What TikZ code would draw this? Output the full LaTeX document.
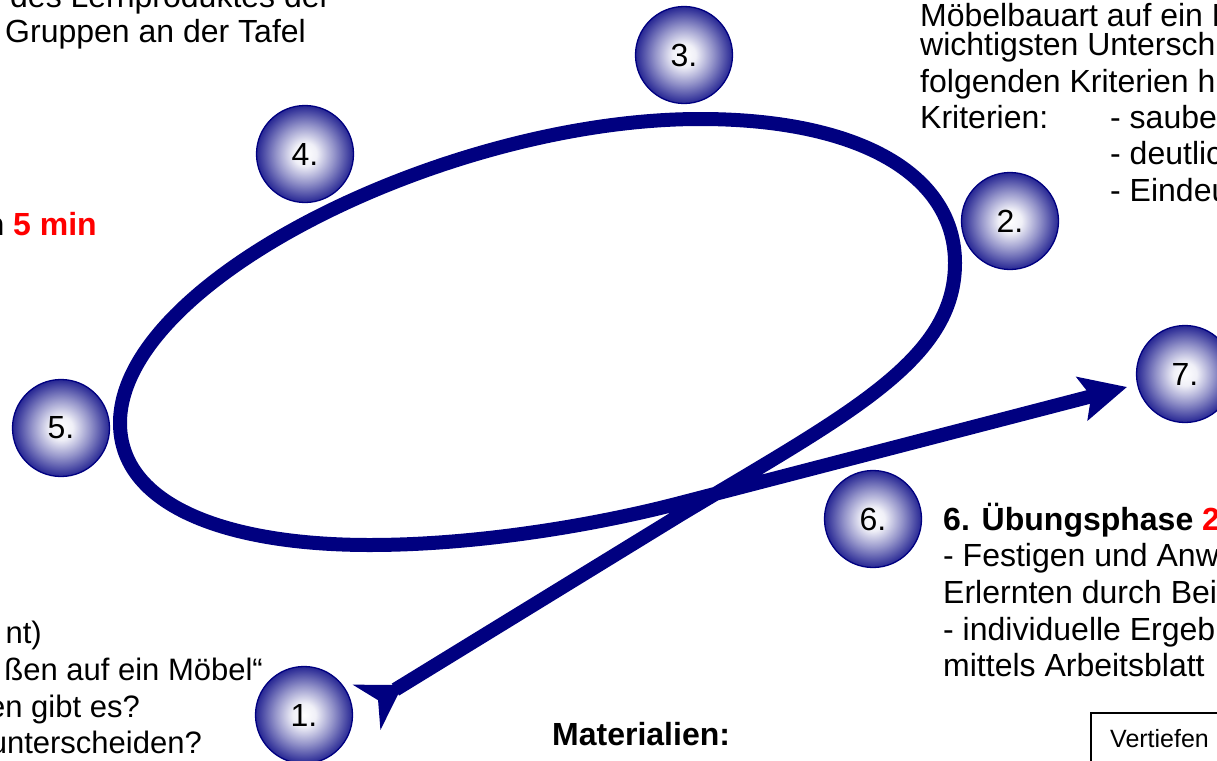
\documentclass[tikz,border=0pt]{standalone}
\usepackage{fontspec}
\setmainfont{Liberation Sans}
\usetikzlibrary{arrows.meta}

\definecolor{loopblue}{RGB}{0,0,128}
\pgfdeclareradialshading{ballshade}{\pgfpoint{0bp}{0bp}}{color(0bp)=(white); color(6bp)=(white!94!loopblue); color(15bp)=(loopblue!42!white); color(25bp)=(loopblue!85!white); color(50bp)=(loopblue!85!white)}

\begin{document}
\begin{tikzpicture}[x=1pt, y=-1pt,
every node/.style={inner sep=0pt},
stepball/.style={circle, draw=loopblue, line width=1.3pt, shade, shading=ballshade, minimum size=97pt, font=\fontsize{32}{36}\selectfont},
txt/.style={align=left, font=\fontsize{32}{36.7}\selectfont},
smalltxt/.style={font=\fontsize{31}{36.7}\selectfont},
loopline/.style={draw=loopblue, line width=14pt, line join=round}]
\useasboundingbox (0,0) rectangle (1217,760);
\clip (0,0) rectangle (1217,760);
\fill[white] (0,0) rectangle (1217,760);
\coordinate (tail) at (367,707);
\coordinate (head) at (1127,387);
\draw[loopline, {Stealth[reversed,length=42pt,width=52pt,inset=13pt]}-{Stealth[length=46pt,width=44pt,inset=9pt]}]
	(tail) -- (680,515) .. controls (850,413) and (955,360) .. (955,263)
	.. controls (955,175) and (860,119) .. (700,119)
	.. controls (450,119) and (120,280) .. (120,423)
	.. controls (120,505) and (225,545) .. (370,545)
	.. controls (480,545) and (600,524) .. (680,503) -- (head);
\node[stepball] (c1) at (304,715) {1.};
\node[stepball] (c2) at (1010,221) {2.};
\node[stepball] (c3) at (684,55) {3.};
\node[stepball] (c4) at (305,154) {4.};
\node[stepball] (c5) at (61,428) {5.};
\node[stepball] (c6) at (873,519) {6.};
\node[stepball] (c7) at (1185,374) {7.};
\node[txt, anchor=base west] (tl1) at (10,8) {des Lernproduktes der};
\node[txt, anchor=base west] (tl2) at (5,43) {Gruppen an der Tafel};
\node[txt, anchor=base east] (zeit) at (97,235) {\textbf{n \textcolor{red}{5 min}}};
\node[txt, anchor=base west] (tr0) at (920,27) {Möbelbauart auf ein P};
\node[txt, anchor=base west] (tr1) at (920,128.9) {wichtigsten Untersch\\folgenden Kriterien h\\Kriterien:};
\node[txt, anchor=base west] (krit) at (1110,201.4) {- saube\\- deutlic\\- Eindeu};
\node[txt, anchor=base west] (ueb) at (943,676.8) {\textbf{6. Übungsphase \textcolor{red}{2}}\\- Festigen und Anw\\Erlernten durch Bei\\- individuelle Ergebn\\mittels Arbeitsblatt};
\node[txt, smalltxt, anchor=base east] (bl1) at (42,643) {nt)};
\node[txt, smalltxt, anchor=base east] (bl2) at (263,680) {ßen auf ein Möbel“};
\node[txt, smalltxt, anchor=base east] (bl3) at (140,717) {en gibt es?};
\node[txt, smalltxt, anchor=base east] (bl4) at (202,753) {unterscheiden?};
\node[txt, anchor=base west] (mat) at (552,745) {\textbf{Materialien:}};
\draw[line width=1.3pt] (1091,713) rectangle (1250,790);
\node[font=\fontsize{25}{30}\selectfont, anchor=base west] (vert) at (1110,747) {Vertiefen};
\end{tikzpicture}
\end{document}
